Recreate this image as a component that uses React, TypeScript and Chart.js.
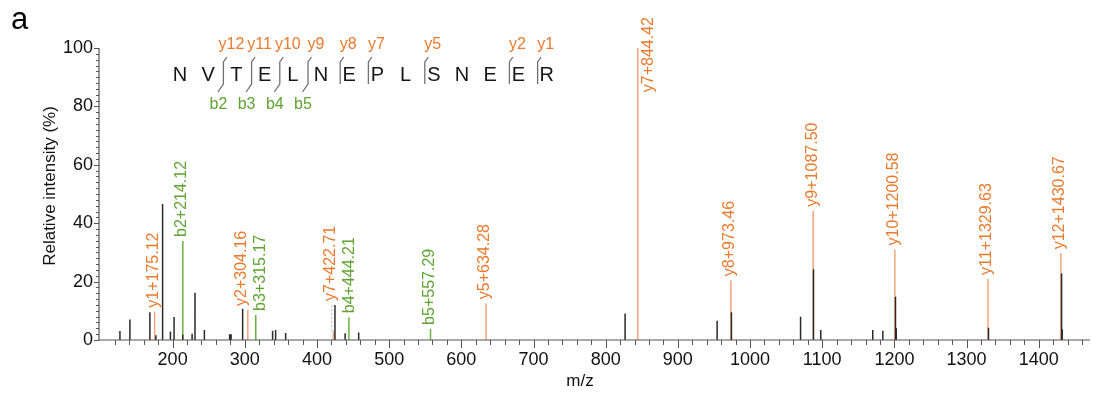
import React, { useEffect, useRef } from 'react';
import { Chart, registerables } from 'chart.js';

Chart.register(...registerables);

// ---------- data ----------
const sequence = ['N', 'V', 'T', 'E', 'L', 'N', 'E', 'P', 'L', 'S', 'N', 'E', 'E', 'R'];
const yIonSeqLabels = ['y12', 'y11', 'y10', 'y9', 'y8', 'y7', 'y5', 'y2', 'y1'];
const yIonSeqCleavage = [2, 3, 4, 5, 6, 7, 9, 12, 13];
const bIonSeqLabels = ['b2', 'b3', 'b4', 'b5'];
const bIonSeqCleavage = [2, 3, 4, 5];

// unassigned peaks (m/z, relative intensity %)
const peakMz = [127, 140.8, 168.5, 176.8, 186.1, 197, 202, 214, 227, 231, 244, 279, 281, 297, 338.5, 342.7, 356.6, 424.9, 439, 457.8, 826.9, 954.4, 974.2, 1070, 1087.9, 1098, 1170, 1184, 1201.5, 1202.6, 1330.4, 1431.6, 1432.5];
const peakIntensity = [3.1, 7.0, 9.5, 1.6, 46.6, 2.9, 7.9, 1.8, 2.1, 16.2, 3.4, 2.0, 2.0, 10.7, 3.2, 3.4, 2.4, 12.0, 2.3, 2.6, 9.1, 6.6, 9.5, 8.0, 24.2, 3.4, 3.4, 3.2, 14.8, 4.0, 4.2, 22.8, 3.7];

// assigned y ions
const yIonName = ['y1', 'y2', 'y7', 'y5', 'y7', 'y8', 'y9', 'y10', 'y11', 'y12'];
const yIonMz = [175.12, 304.16, 422.71, 634.28, 844.42, 973.46, 1087.5, 1200.58, 1329.63, 1430.67];
const yIonIntensity = [9.7, 10.3, 3.0, 12.6, 100, 20.5, 44.3, 31.0, 20.9, 29.7];

// assigned b ions
const bIonName = ['b2', 'b3', 'b4', 'b5'];
const bIonMz = [214.12, 315.17, 444.21, 557.29];
const bIonIntensity = [33.9, 8.6, 7.8, 3.8];

const xTickValues = [200, 300, 400, 500, 600, 700, 800, 900, 1000, 1100, 1200, 1300, 1400];
const yTickValues = [0, 20, 40, 60, 80, 100];
const xTitle = 'm/z';
const yTitle = 'Relative intensity (%)';

// ---------- styles ----------
const FONT = '"Liberation Sans", Arial, sans-serif';
const ORANGE_TEXT = '#ea7a2c';
const ORANGE_LINE = '#f2a57a';
const GREEN_TEXT = '#5fa332';
const GREEN_LINE = '#6cb043';
const PEAK = '#2a2a2a';
const AXIS = '#555555';

function stems(mz: number[], h: number[]) {
  const out: any[] = [];
  mz.forEach((m, i) => {
    out.push({ x: m, y: 0 }, { x: m, y: h[i] }, { x: m, y: null });
  });
  return out;
}

function labelLevel(mz: number, h: number) {
  let lvl = h;
  peakMz.forEach((m, i) => {
    if (Math.abs(m - mz) < 3 && peakIntensity[i] > lvl) lvl = peakIntensity[i];
  });
  return lvl;
}

const overlayPlugin = {
  id: 'overlay',
  afterDatasetsDraw(chart: any) {
    const { ctx, scales, chartArea } = chart;
    const xs = scales.x;
    const ys = scales.y;
    const y0 = ys.getPixelForValue(0);
    ctx.save();

    // axes
    ctx.strokeStyle = AXIS;
    ctx.lineWidth = 1.2;
    ctx.beginPath();
    ctx.moveTo(chartArea.left, ys.getPixelForValue(100));
    ctx.lineTo(chartArea.left, y0);
    ctx.lineTo(chartArea.right, y0);
    ctx.stroke();
    ctx.lineWidth = 1;
    ctx.beginPath();
    for (let v = 0; v <= 100; v += 2) {
      const py = Math.round(ys.getPixelForValue(v)) + 0.5;
      const len = v % 20 === 0 ? 5 : 3;
      ctx.moveTo(chartArea.left, py);
      ctx.lineTo(chartArea.left - len, py);
    }
    for (let v = 120; v <= xs.max; v += 20) {
      const px = Math.round(xs.getPixelForValue(v)) + 0.5;
      const len = v % 100 === 0 ? 8 : 5;
      ctx.moveTo(px, y0);
      ctx.lineTo(px, y0 + len);
    }
    ctx.stroke();

    // axis titles
    ctx.fillStyle = '#111';
    ctx.font = `17px ${FONT}`;
    ctx.textAlign = 'center';
    ctx.textBaseline = 'middle';
    ctx.fillText(xTitle, 580, 381);
    ctx.save();
    ctx.translate(50, 186);
    ctx.rotate(-Math.PI / 2);
    ctx.fillText(yTitle, 0, 0);
    ctx.restore();

    // ion labels
    ctx.font = `16px ${FONT}`;
    type L = { text: string; px: number; line: number; h: number; lvl: number; color: string; side: boolean };
    const labels: L[] = [];
    const collect = (names: string[], mzs: number[], hs: number[], color: string) => {
      mzs.forEach((m, i) => {
        const px = xs.getPixelForValue(m);
        labels.push({
          text: `${names[i]}+${m.toFixed(2)}`,
          px,
          line: px,
          h: hs[i],
          lvl: labelLevel(m, hs[i]),
          color,
          side: hs[i] >= 90,
        });
      });
    };
    collect(yIonName, yIonMz, yIonIntensity, ORANGE_TEXT);
    collect(bIonName, bIonMz, bIonIntensity, GREEN_TEXT);
    const stacked = labels.filter((l) => !l.side).sort((a, b) => a.px - b.px);
    const MIN_SEP = 19;
    for (let i = 1; i < stacked.length; i++) {
      const d = stacked[i].px - stacked[i - 1].px;
      if (d < MIN_SEP) {
        const s = (MIN_SEP - d) / 2;
        stacked[i - 1].px -= s;
        stacked[i].px += s;
      }
    }
    labels.forEach((l) => {
      ctx.fillStyle = l.color;
      if (l.side) {
        const w = ctx.measureText(l.text).width;
        ctx.save();
        ctx.translate(l.px + 11, chartArea.top - 31 + w);
        ctx.rotate(-Math.PI / 2);
        ctx.textAlign = 'left';
        ctx.textBaseline = 'middle';
        ctx.fillText(l.text, 0, 0);
        ctx.restore();
        return;
      }
      if (l.lvl > l.h) {
        ctx.save();
        ctx.strokeStyle = '#b8b8b8';
        ctx.setLineDash([2, 2]);
        ctx.lineWidth = 1;
        ctx.beginPath();
        ctx.moveTo(l.line - 1.5, ys.getPixelForValue(l.h));
        ctx.lineTo(l.line - 1.5, ys.getPixelForValue(l.lvl));
        ctx.stroke();
        ctx.restore();
      }
      ctx.save();
      ctx.translate(l.px - 1, ys.getPixelForValue(l.lvl) - 4);
      ctx.rotate(-Math.PI / 2);
      ctx.textAlign = 'left';
      ctx.textBaseline = 'middle';
      ctx.fillText(l.text, 0, 0);
      ctx.restore();
    });

    // panel letter
    ctx.fillStyle = '#000';
    ctx.font = `31px ${FONT}`;
    ctx.textAlign = 'left';
    ctx.textBaseline = 'alphabetic';
    ctx.fillText('a', 11, 29);

    // peptide sequence
    const letterX = (i: number) => 180 + 28.2 * i;
    ctx.font = `20px ${FONT}`;
    ctx.fillStyle = '#151515';
    ctx.textAlign = 'center';
    ctx.textBaseline = 'middle';
    sequence.forEach((s, i) => ctx.fillText(s, letterX(i), 75));

    ctx.strokeStyle = '#707070';
    ctx.lineWidth = 1.3;
    ctx.font = `16px ${FONT}`;
    yIonSeqCleavage.forEach((c, k) => {
      const hasB = bIonSeqCleavage.includes(c);
      const mx = letterX(c) - (hasB ? 13 : 9);
      ctx.beginPath();
      ctx.moveTo(mx + 3.5, 57);
      ctx.lineTo(mx, 62);
      ctx.lineTo(mx, 84);
      if (hasB) ctx.lineTo(mx - 5.5, 92);
      ctx.stroke();
      ctx.fillStyle = ORANGE_TEXT;
      ctx.fillText(yIonSeqLabels[k], mx + 8, 45);
    });
    bIonSeqCleavage.forEach((c, k) => {
      const mx = letterX(c) - 13;
      ctx.fillStyle = GREEN_TEXT;
      ctx.fillText(bIonSeqLabels[k], mx - 5, 105);
    });
    ctx.restore();
  },
};

export default function App() {
  const ref = useRef<HTMLCanvasElement>(null);
  useEffect(() => {
    document.body.style.margin = '0';
    const chart = new Chart(ref.current as HTMLCanvasElement, {
      type: 'line',
      data: {
        datasets: [
          {
            label: 'peaks',
            data: stems(peakMz, peakIntensity),
            borderColor: PEAK,
            borderWidth: 1.5,
            pointRadius: 0,
            spanGaps: false,
          },
          {
            label: 'y ions',
            data: stems(yIonMz, yIonIntensity),
            borderColor: ORANGE_LINE,
            borderWidth: 1.5,
            pointRadius: 0,
            spanGaps: false,
          },
          {
            label: 'b ions',
            data: stems(bIonMz, bIonIntensity),
            borderColor: GREEN_LINE,
            borderWidth: 1.5,
            pointRadius: 0,
            spanGaps: false,
          },
        ],
      },
      options: {
        animation: false,
        responsive: false,
        maintainAspectRatio: false,
        parsing: false as any,
        layout: { padding: { left: 0, right: 7, top: 48, bottom: 0 } },
        plugins: { legend: { display: false }, tooltip: { enabled: false } },
        scales: {
          x: {
            type: 'linear',
            min: 98,
            max: 1471,
            grid: { display: false, drawTicks: false },
            border: { display: false },
            afterBuildTicks: (s: any) => {
              s.ticks = xTickValues.map((v) => ({ value: v }));
            },
            afterFit: (s: any) => {
              s.height = 54;
            },
            ticks: {
              padding: 9,
              color: '#111',
              font: { family: FONT, size: 18 },
              maxRotation: 0,
              autoSkip: false,
              callback: (v: any) => String(v),
            },
          },
          y: {
            type: 'linear',
            min: 0,
            max: 100,
            grid: { display: false, drawTicks: false },
            border: { display: false },
            afterBuildTicks: (s: any) => {
              s.ticks = yTickValues.map((v) => ({ value: v }));
            },
            afterFit: (s: any) => {
              s.width = 99;
            },
            ticks: {
              padding: 6,
              color: '#111',
              font: { family: FONT, size: 18 },
              autoSkip: false,
              callback: (v: any) => String(v),
            },
          },
        },
      },
      plugins: [overlayPlugin],
    });
    return () => chart.destroy();
  }, []);
  return <canvas ref={ref} width={1097} height={394} style={{ display: 'block' }} />;
}
